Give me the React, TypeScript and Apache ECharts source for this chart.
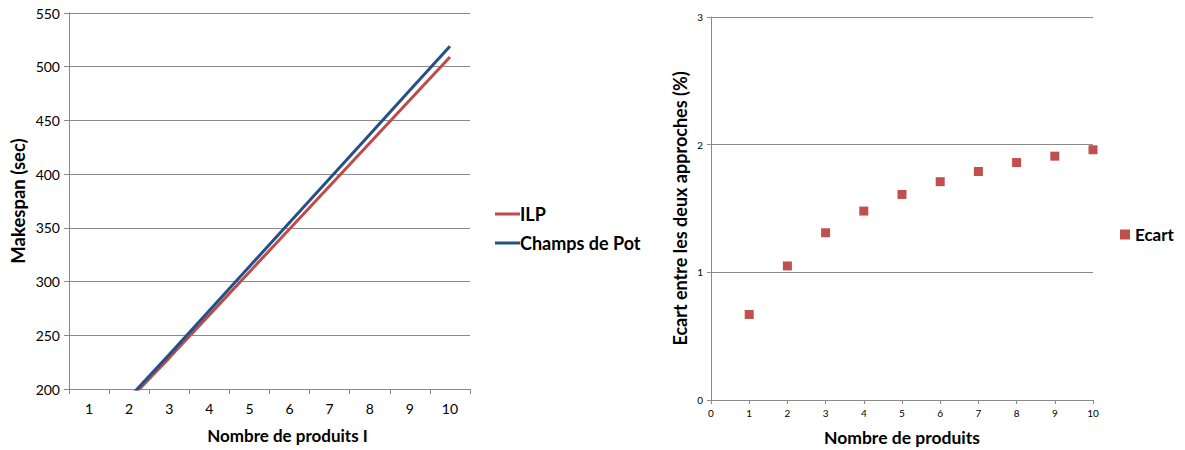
import React, { useEffect, useRef } from "react";
import * as echarts from "echarts";

const categories = ["1", "2", "3", "4", "5", "6", "7", "8", "9", "10"];
const ilp = [150, 190, 229, 269, 309, 349, 389, 429, 469, 509];
const champsDePot = [151, 192, 232, 273, 314, 355, 396, 437, 478, 519];
const ecartX = [1, 2, 3, 4, 5, 6, 7, 8, 9, 10];
const ecart = [0.67, 1.05, 1.31, 1.48, 1.61, 1.71, 1.79, 1.86, 1.91, 1.96];

const FONT = "Lato, 'Noto Sans', sans-serif";
const GRID_COLOR = "#8a8a8a";
const AXIS_COLOR = "#8a8a8a";

export default function App() {
  const ref = useRef<HTMLDivElement>(null);
  useEffect(() => {
    if (!ref.current) return;
    const chart = echarts.init(ref.current, undefined, { renderer: "svg" });
    chart.setOption({
      animation: false,
      textStyle: { fontFamily: FONT },
      grid: [
        { left: 69, top: 13, width: 401, height: 376, outerBoundsMode: "none", containLabel: false },
        { left: 711, top: 17, width: 382, height: 383, outerBoundsMode: "none", containLabel: false },
      ],
      legend: [
        {
          data: ["ILP", "Champs de Pot"],
          orient: "vertical",
          left: 490,
          top: 200,
          icon: "rect",
          itemWidth: 25,
          itemHeight: 3,
          itemGap: 11,
          textStyle: { fontFamily: FONT, fontWeight: "bold", fontSize: 18, color: "#000", padding: [0, 0, 0, -5] },
        },
        {
          data: ["Ecart"],
          orient: "vertical",
          left: 1115,
          top: 221,
          icon: "rect",
          itemWidth: 10,
          itemHeight: 10,
          itemGap: 5,
          textStyle: { fontFamily: FONT, fontWeight: "bold", fontSize: 17, color: "#000" },
        },
      ],
      xAxis: [
        {
          type: "category",
          gridIndex: 0,
          data: categories,
          boundaryGap: true,
          name: "Nombre de produits I",
          nameLocation: "middle",
          nameGap: 38,
          nameTextStyle: { fontFamily: FONT, fontWeight: "bold", fontSize: 17, color: "#000", padding: [0, 0, 0, 36] },
          axisLine: { lineStyle: { color: AXIS_COLOR } },
          axisTick: { show: true, length: 5, interval: 0, lineStyle: { color: AXIS_COLOR } },
          axisLabel: { fontSize: 14, color: "#000", margin: 12, interval: 0 },
          splitLine: { show: false },
        },
        {
          type: "value",
          gridIndex: 1,
          min: 0,
          max: 10,
          interval: 1,
          name: "Nombre de produits",
          nameLocation: "middle",
          nameGap: 28,
          nameTextStyle: { fontFamily: FONT, fontWeight: "bold", fontSize: 17.5, color: "#000" },
          axisLine: { onZero: false, lineStyle: { color: AXIS_COLOR } },
          axisTick: { show: true, length: 4, lineStyle: { color: AXIS_COLOR } },
          axisLabel: { fontSize: 10, color: "#000", margin: 8 },
          splitLine: { show: false },
        },
      ],
      yAxis: [
        {
          type: "value",
          gridIndex: 0,
          min: 200,
          max: 550,
          interval: 50,
          name: "Makespan (sec)",
          nameLocation: "middle",
          nameGap: 42,
          nameRotate: 90,
          nameTextStyle: { fontFamily: FONT, fontWeight: "bold", fontSize: 18.5, color: "#000" },
          axisLine: { show: true, lineStyle: { color: AXIS_COLOR } },
          axisTick: { show: true, length: 5, lineStyle: { color: AXIS_COLOR } },
          axisLabel: { fontSize: 14, color: "#000", margin: 9 },
          splitLine: { show: true, lineStyle: { color: GRID_COLOR, width: 1 } },
        },
        {
          type: "value",
          gridIndex: 1,
          min: 0,
          max: 3,
          interval: 1,
          name: "Ecart entre les deux approches (%)",
          nameLocation: "middle",
          nameGap: 22,
          nameRotate: 90,
          nameTextStyle: { fontFamily: FONT, fontWeight: "bold", fontSize: 18, color: "#000" },
          axisLine: { show: true, lineStyle: { color: AXIS_COLOR } },
          axisTick: { show: true, length: 4, lineStyle: { color: AXIS_COLOR } },
          axisLabel: { fontSize: 10, color: "#000", margin: 8 },
          splitLine: { show: true, lineStyle: { color: GRID_COLOR, width: 1 } },
        },
      ],
      series: [
        {
          name: "ILP",
          type: "line",
          xAxisIndex: 0,
          yAxisIndex: 0,
          data: ilp,
          symbol: "none",
          clip: true,
          lineStyle: { color: "#BE4B48", width: 3 },
          itemStyle: { color: "#BE4B48" },
        },
        {
          name: "Champs de Pot",
          type: "line",
          xAxisIndex: 0,
          yAxisIndex: 0,
          data: champsDePot,
          symbol: "none",
          clip: true,
          lineStyle: { color: "#24508A", width: 3 },
          itemStyle: { color: "#24508A" },
        },
        {
          name: "Ecart",
          type: "scatter",
          xAxisIndex: 1,
          yAxisIndex: 1,
          data: ecartX.map((x, i) => [x, ecart[i]]),
          symbol: "rect",
          symbolSize: 9,
          itemStyle: { color: "#C0504D", opacity: 1 },
        },
      ],
    });
    return () => chart.dispose();
  }, []);
  return (
    <div
      ref={ref}
      style={{ position: "fixed", left: 0, top: 0, width: 1185, height: 450, background: "#fff" }}
    />
  );
}
